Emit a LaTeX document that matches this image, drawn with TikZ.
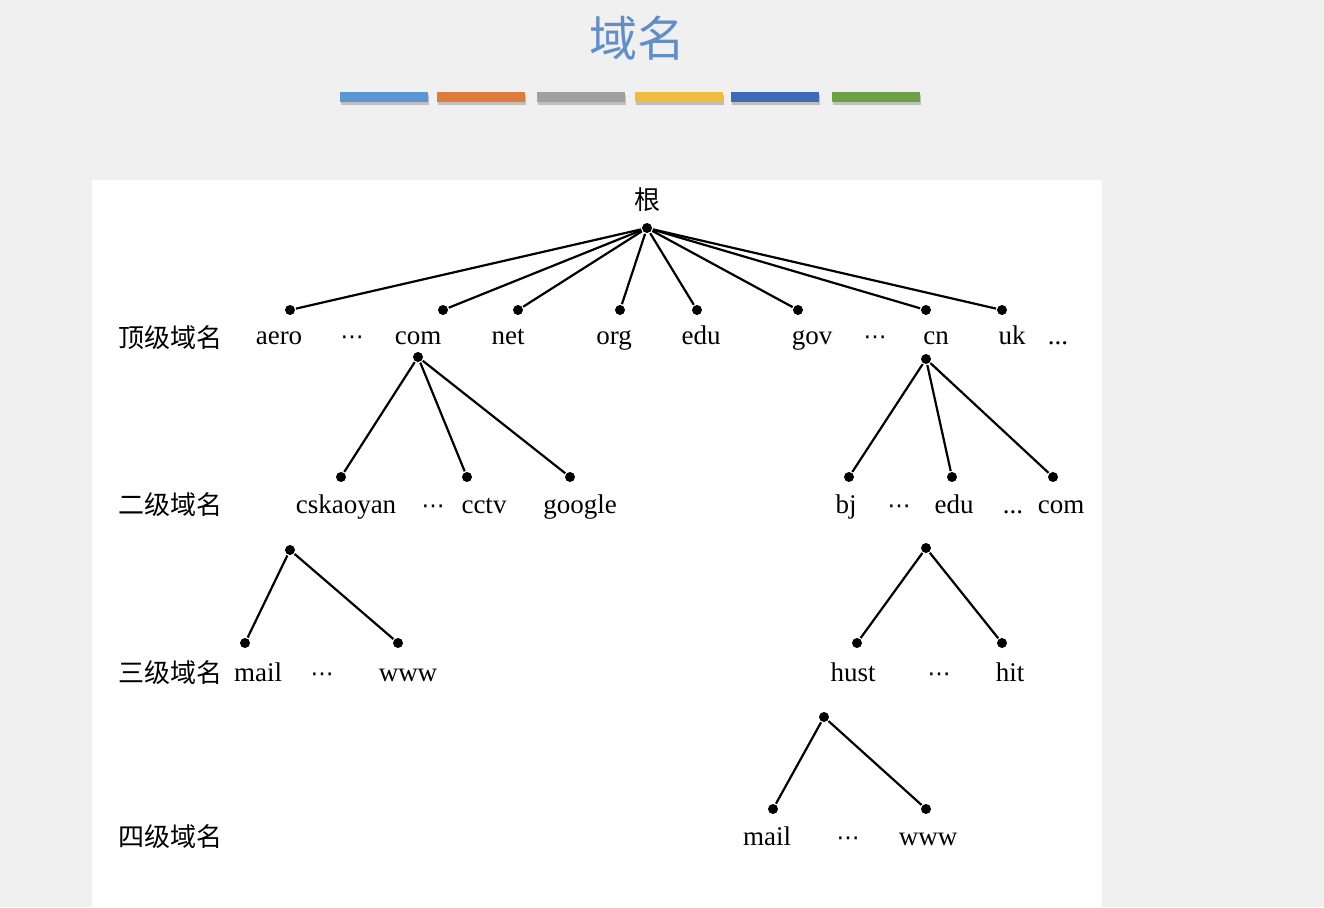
\documentclass[tikz,border=0pt]{standalone}
\usepackage{fontspec}
\setmainfont{Liberation Serif}
\newfontfamily\cjk{Noto Sans CJK SC}
\newfontfamily\symfont{DejaVu Sans}
\definecolor{titleblue}{RGB}{98,142,200}
\definecolor{barA}{RGB}{91,150,210}
\definecolor{barB}{RGB}{222,122,60}
\definecolor{barC}{RGB}{160,160,160}
\definecolor{barD}{RGB}{240,188,64}
\definecolor{barE}{RGB}{64,106,180}
\definecolor{barF}{RGB}{110,160,70}
\tikzset{every picture/.style={line width=2.2pt}}
\tikzset{
  dot/.style={circle,fill=black,inner sep=0pt,minimum size=10pt},
  lbl/.style={anchor=base,inner sep=0.75pt,font=\fontsize{27}{30}\selectfont},
  lvl/.style={anchor=base,inner sep=0.75pt,font=\cjk\fontsize{26}{30}\selectfont},
  bar/.style={draw=none,fill=#1}
}
\newcommand{\cdotsym}{{\symfont\fontsize{23}{26}\selectfont ⋯}}

\begin{document}
\begin{tikzpicture}[x=1pt,y=1pt,yscale=-1,xscale=1]
%set diagram left start at 0, and has height of 907
\useasboundingbox (0,0) rectangle (1324,907);
\fill[black!6] (0,0) rectangle (1324,907);
%Shape: Rectangle (panel)
\fill[white] (92,180) rectangle (1102,907);

% Title
\node[inner sep=0pt,text=titleblue,font=\cjk\fontsize{48}{52}\selectfont] (title) at (637,38) {域名};
%Shape: Rectangle (bars)
\foreach \xa/\xb/\c in {340/428/barA,437/525/barB,537/625/barC,635/723/barD,731/819/barE,832/920/barF}{
  \fill[black!25] (\xa+1,95) rectangle (\xb+1,105);
  \fill[bar=\c] (\xa,92) rectangle (\xb,102);
}

% Level labels
\node[lvl] (lvlA) at (170,347) {顶级域名};
\node[lvl] (lvlB) at (170,514) {二级域名};
\node[lvl] (lvlC) at (170,682) {三级域名};
\node[lvl] (lvlD) at (170,846) {四级域名};

% Root
\node[anchor=base,inner sep=0.75pt,font=\cjk\fontsize{26}{30}\selectfont] (rootlbl) at (647,209) {根};
\node[dot] (root) at (647,228) {};

% Top level domains
\node[dot] (aero) at (290,310) {};
\node[dot] (com) at (443,310) {};
\node[dot] (net) at (518,310) {};
\node[dot] (org) at (620,310) {};
\node[dot] (edu) at (697,310) {};
\node[dot] (gov) at (798,310) {};
\node[dot] (cn) at (926,310) {};
\node[dot] (uk) at (1002,310) {};
\foreach \n in {aero,com,net,org,edu,gov,cn,uk}
  \draw (root) -- (\n);

\node[lbl] (aerolbl) at (279,344) {aero};
\node[lbl] (dotsA) at (352,344) {\cdotsym};
\node[lbl] (comlbl) at (418,344) {com};
\node[lbl] (netlbl) at (508,344) {net};
\node[lbl] (orglbl) at (614,344) {org};
\node[lbl] (edulbl) at (701,344) {edu};
\node[lbl] (govlbl) at (812,344) {gov};
\node[lbl] (dotsB) at (875,344) {\cdotsym};
\node[lbl] (cnlbl) at (936,344) {cn};
\node[lbl] (uklbl) at (1012,344) {uk};
\node[lbl] (dotsC) at (1058,344) {...};

% Second level domains
\node[dot] (comtop) at (418,357) {};
\node[dot] (cntop) at (926,359) {};
\node[dot] (cskaoyan) at (341,477) {};
\node[dot] (cctv) at (467,477) {};
\node[dot] (google) at (570,477) {};
\node[dot] (bj) at (849,477) {};
\node[dot] (cnedu) at (952,477) {};
\node[dot] (cncom) at (1053,477) {};
\foreach \n in {cskaoyan,cctv,google}
  \draw (comtop) -- (\n);
\foreach \n in {bj,cnedu,cncom}
  \draw (cntop) -- (\n);

\node[lbl] (cskaoyanlbl) at (346,513) {cskaoyan};
\node[lbl] (dotsD) at (433,513) {\cdotsym};
\node[lbl] (cctvlbl) at (484,513) {cctv};
\node[lbl] (googlelbl) at (580,513) {google};
\node[lbl] (bjlbl) at (846,513) {bj};
\node[lbl] (dotsE) at (899,513) {\cdotsym};
\node[lbl] (cnedulbl) at (954,513) {edu};
\node[lbl] (dotsF) at (1013,513) {...};
\node[lbl] (cncomlbl) at (1061,513) {com};

% Third level domains
\node[dot] (cstop) at (290,550) {};
\node[dot] (edutop) at (926,548) {};
\node[dot] (csmail) at (245,643) {};
\node[dot] (cswww) at (398,643) {};
\node[dot] (hust) at (857,643) {};
\node[dot] (hit) at (1002,643) {};
\draw (cstop) -- (csmail);
\draw (cstop) -- (cswww);
\draw (edutop) -- (hust);
\draw (edutop) -- (hit);

\node[lbl] (csmaillbl) at (258,681) {mail};
\node[lbl] (dotsG) at (322,681) {\cdotsym};
\node[lbl] (cswwwlbl) at (408,681) {www};
\node[lbl] (hustlbl) at (853,681) {hust};
\node[lbl] (dotsH) at (939,681) {\cdotsym};
\node[lbl] (hitlbl) at (1010,681) {hit};

% Fourth level domains
\node[dot] (husttop) at (824,717) {};
\node[dot] (hmail) at (773,809) {};
\node[dot] (hwww) at (926,809) {};
\draw (husttop) -- (hmail);
\draw (husttop) -- (hwww);

\node[lbl] (hmaillbl) at (767,845) {mail};
\node[lbl] (dotsI) at (848,845) {\cdotsym};
\node[lbl] (hwwwlbl) at (928,845) {www};

\end{tikzpicture}
\end{document}
